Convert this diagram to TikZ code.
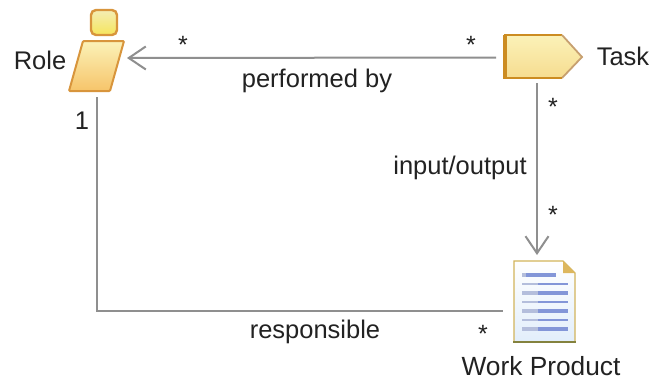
\documentclass[tikz,border=0pt]{standalone}
\usepackage{fontspec}
\setmainfont{Liberation Sans}
\usetikzlibrary{arrows.meta}
\definecolor{linegray}{HTML}{8F8F8F}
\definecolor{txt}{HTML}{222222}
\definecolor{rolebrd}{HTML}{D8953C}
\definecolor{rolebot}{HTML}{F6C46A}
\definecolor{roletop}{HTML}{FBF2B8}
\definecolor{headtop}{HTML}{F4EDB4}
\definecolor{headbot}{HTML}{F6E55C}
\definecolor{taskbar}{HTML}{CC8C22}
\definecolor{taskbot}{HTML}{F6DC90}
\definecolor{taskedge}{HTML}{C7A070}
\definecolor{docedge}{HTML}{D2B45C}
\definecolor{docbot}{HTML}{84823E}
\definecolor{docfold}{HTML}{DDB75E}
\definecolor{docline}{HTML}{8396D8}
\definecolor{doclinel}{HTML}{B4BEDC}
\definecolor{docblue}{HTML}{E2EEFB}
\begin{document}
\begin{tikzpicture}[x=1pt,y=-1pt,
  lbl/.style={inner sep=0pt,text=txt,font=\fontsize{25.5}{25.5}\selectfont},
  star/.style={inner sep=0pt,text=txt,font=\fontsize{25}{25}\selectfont},
  slot/.style={inner sep=0pt,outer sep=0pt,draw=none,rectangle},
  conn/.style={draw=linegray,line width=2pt},
  open/.style={-{Straight Barb[length=17pt,width=23pt,line width=2pt]}}]
\useasboundingbox (0,0) rectangle (653,381);
\fill[white] (0,0) rectangle (653,381);
% anchor slots that the connectors end on
\node[slot,minimum width=44pt,minimum height=60pt] (role) at (105,58) {};
\node[slot,minimum width=82pt,minimum height=51pt] (task) at (537,57.5) {};
\node[slot,minimum width=68pt,minimum height=100pt] (wp) at (537,305) {};
\coordinate (corner) at (97,311);
\coordinate (roleb) at (97,97);
% role icon
\draw[draw=rolebrd,line width=2pt,top color=roletop,bottom color=rolebot,rounded corners=1pt]
  (83,41) -- (124,41) -- (110,91) -- (69,91) -- cycle;
\draw[draw=rolebrd,line width=2.4pt,rounded corners=5pt,top color=headtop,bottom color=headbot]
  (91,10) rectangle (117,35);
% task icon
\shade[top color=roletop,bottom color=taskbot]
  (504,35) -- (562,35) -- (582,57) -- (562,78) -- (504,78) -- cycle;
\draw[draw=taskbar,line width=1.4pt] (504,35) -- (562,35);
\draw[draw=taskedge,line width=1.8pt] (562,35) -- (582,57) -- (562,78);
\draw[draw=taskbar,line width=1.4pt] (562,78) -- (504,78);
\fill[taskbar] (503,35) rectangle (507,78.5);
% work product icon
\shade[top color=white,middle color=docblue!70!white,bottom color=docblue]
  (514,261) -- (563,261) -- (575,273) -- (575,342) -- (514,342) -- cycle;
\draw[draw=docedge,line width=1.4pt] (514,342) -- (514,261) -- (563,261) -- (575,273) -- (575,342);
\draw[draw=docbot,line width=1.8pt] (513,342) -- (576,342);
\fill[docfold] (563,261) -- (575,273) -- (563,273) -- cycle;
\foreach \y/\xe/\w in {275/556/3.2,284/568/1.6,293/568/3.2,302/568/1.6,311/568/3.2,320/568/1.6,329/568/3.2}
  {\draw[draw=doclinel,line width=\w pt] (522,\y) -- (\xe-30,\y);
   \draw[draw=docline,line width=\w pt] (\xe-30,\y) -- (\xe,\y);}
% connectors
\draw[conn,open] (task.west) -- (role.east);
\draw[conn,open] (task.south) -- (wp.north);
\draw[conn] (roleb) -- (corner) -- (wp.west |- corner);
% labels
\node[lbl] (lrole) at (40,60) {Role};
\node[lbl] (ltask) at (623,56) {Task};
\node[lbl,font=\fontsize{26.3}{26.3}\selectfont] (lwp) at (541,366) {Work Product};
\node[lbl] (lperf) at (317,81) {performed by};
\node[lbl] (lio) at (460,168) {input/output};
\node[lbl] (lresp) at (315,332) {responsible};
\node[lbl] (lone) at (82,121) {1};
\node[star] (s1) at (183,45) {*};
\node[star] (s2) at (471,45) {*};
\node[star] (s3) at (553,107) {*};
\node[star] (s4) at (553,215) {*};
\node[star] (s5) at (483,334) {*};
\end{tikzpicture}
\end{document}
